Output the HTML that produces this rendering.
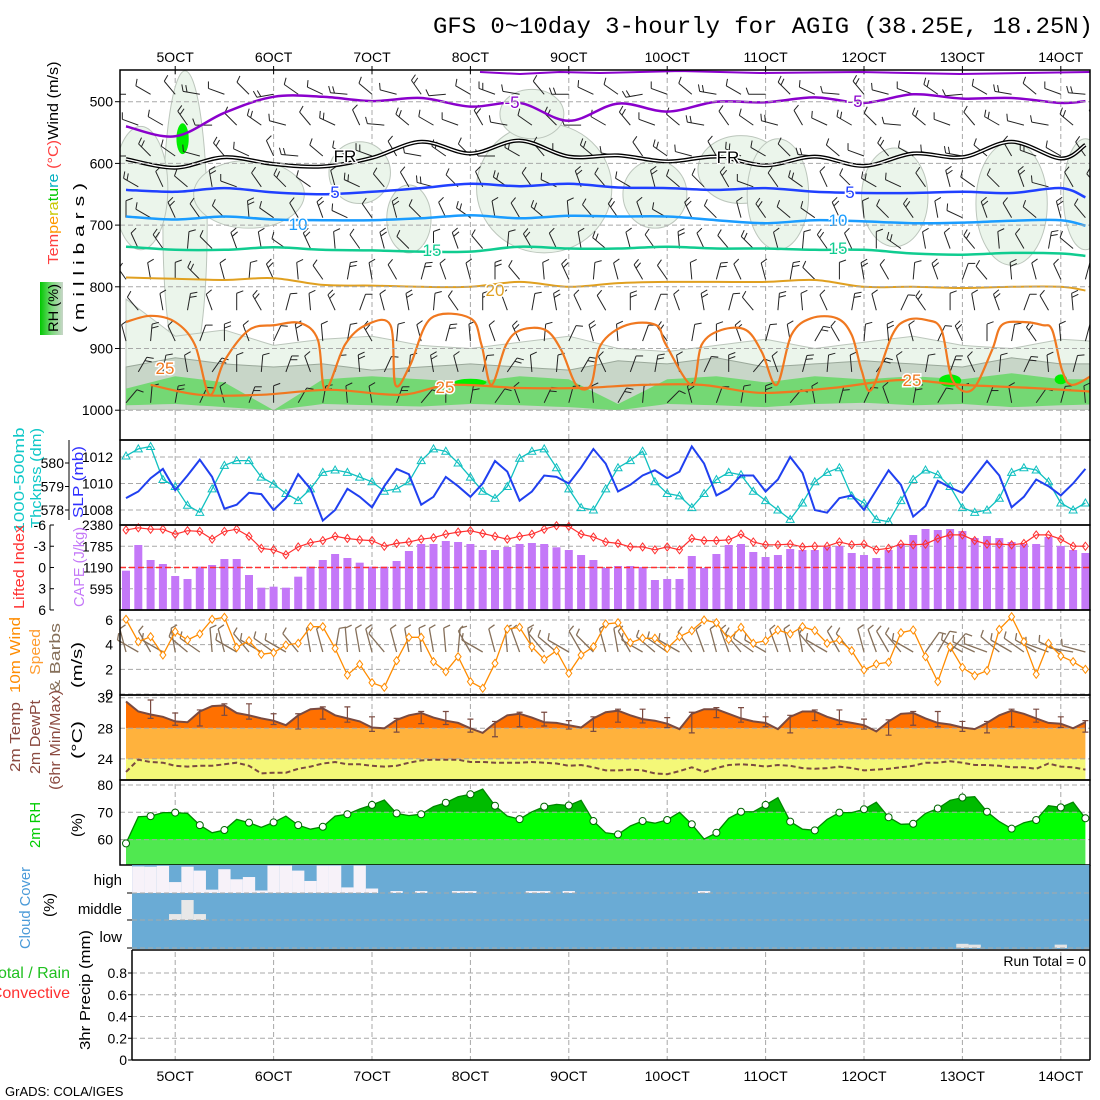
<!DOCTYPE html>
<html><head><meta charset="utf-8"><title>GFS meteogram AGIG</title>
<style>
html,body{margin:0;padding:0;background:#fff;}
svg{display:block;font-family:"Liberation Sans",sans-serif;}
</style></head>
<body>
<svg id="chart" xmlns="http://www.w3.org/2000/svg" width="1100" height="1100" viewBox="0 0 1100 1100">
<defs>
<clipPath id="clipTop"><rect x="120" y="70" width="970" height="340"/></clipPath>
<linearGradient id="rhGrad" x1="0" y1="0" x2="1" y2="0"><stop offset="0" stop-color="#00c800"/><stop offset="0.5" stop-color="#78d878"/><stop offset="1" stop-color="#c8d6c8"/></linearGradient>
</defs>
<text x="433" y="33" font-family="Liberation Mono, monospace" font-size="23" textLength="660" lengthAdjust="spacingAndGlyphs">GFS 0~10day 3-hourly for AGIG (38.25E, 18.25N)</text>
<text x="5" y="1096" font-size="13">GrADS: COLA/IGES</text>
</svg>
<script>
// ---------------- DATA ----------------
const dayLabels=["5OCT","6OCT","7OCT","8OCT","9OCT","10OCT","11OCT","12OCT","13OCT","14OCT"];
const slp=[1008.9,1009.4,1010.4,1011.1,1009.5,1010.6,1011.8,1010.5,1008.1,1008.4,1009.3,1009.2,1008.0,1008.9,1010.7,1009.6,1007.2,1008.0,1009.6,1009.0,1008.2,1009.8,1011.1,1010.7,1008.4,1009.0,1010.5,1009.8,1009.0,1010.0,1011.7,1010.9,1008.7,1009.4,1010.6,1010.5,1010.0,1011.2,1012.6,1011.5,1009.4,1009.9,1010.6,1011.0,1010.4,1010.9,1012.8,1011.5,1009.1,1009.6,1010.6,1010.6,1009.4,1010.3,1012.0,1010.8,1008.0,1007.8,1008.9,1009.1,1008.0,1009.5,1011.0,1009.9,1007.5,1008.3,1010.2,1009.7,1009.3,1010.5,1011.7,1010.6,1008.2,1009.0,1010.3,1009.8,1009.1,1010.0,1011.1];
const thick=[580.3,580.6,580.7,579.3,579.0,578.2,577.9,578.9,579.9,580.1,580.1,579.4,579.1,578.7,578.4,578.9,579.6,579.7,579.6,579.4,579.2,578.8,578.9,579.2,580.1,580.6,580.5,580.0,579.4,578.8,578.5,579.0,580.2,580.5,580.6,579.8,578.9,578.1,578.0,578.9,579.8,580.1,580.5,579.2,578.7,578.6,578.1,578.7,579.3,579.6,579.5,578.8,578.4,578.0,577.6,578.3,579.2,579.6,579.8,578.6,578.3,577.6,577.5,578.4,579.3,579.7,579.5,579.0,578.1,577.9,578.0,578.5,579.6,579.8,579.7,579.2,578.3,578.0,578.3];
const cape=[1101,1820,1400,1288,952,868,1213,1260,1428,1428,980,625,653,625,933,1213,1400,1568,1456,1325,1213,1213,1372,1652,1848,1848,1932,1904,1848,1680,1680,1764,1848,1876,1848,1755,1680,1540,1400,1176,1232,1232,1204,840,868,868,1512,1176,1568,1820,1848,1624,1484,1540,1708,1680,1680,1764,1792,1596,1540,1456,1680,1848,2100,2268,2240,2268,2212,2016,2072,2016,1904,1848,1848,2044,1792,1680,1596];
const lifted=[-5.3,-5.6,-5.4,-5.4,-4.7,-5.2,-5.1,-4.0,-5.1,-5.4,-4.4,-2.7,-2.5,-1.8,-2.9,-3.5,-3.8,-4.4,-4.1,-3.9,-3.8,-3.0,-3.4,-3.6,-4.0,-4.2,-4.7,-5.0,-5.2,-4.8,-4.4,-4.0,-4.4,-4.7,-5.4,-5.9,-5.8,-4.7,-4.3,-3.6,-3.4,-2.9,-2.9,-2.5,-2.9,-2.5,-4.1,-3.8,-3.8,-3.9,-4.7,-3.6,-3.2,-3.2,-3.3,-2.9,-3.0,-3.0,-3.6,-3.2,-3.3,-2.5,-2.7,-3.3,-3.2,-3.3,-4.1,-4.6,-4.6,-3.8,-3.3,-3.3,-3.2,-3.4,-4.6,-4.6,-4.0,-3.0,-3.0];
const wspd=[6.06,4.24,4.65,3.16,5.05,4.38,4.87,6.06,6.22,3.78,4.32,3.22,3.35,3.97,4.11,5.46,5.46,3.7,1.54,2.41,0.92,0.54,2.7,4.6,4.6,2.62,1.81,3.03,1.0,0.46,2.49,5.27,5.41,3.84,2.81,3.51,1.68,3.16,3.84,5.68,5.78,4.16,4.52,4.52,3.7,4.65,5.14,6.0,5.78,4.43,5.41,4.11,4.32,5.19,4.87,5.46,5.14,4.11,4.38,3.51,1.95,2.43,2.57,4.97,5.19,3.03,1.0,3.84,2.16,1.49,1.89,5.24,6.27,4.24,1.6,4.11,3.08,2.62,2.0];
const wdir10=[345,300,330,300,350,310,305,355,345,300,320,300,305,300,320,350,345,10,355,350,345,320,345,350,355,350,355,5,330,300,345,355,340,350,320,310,300,330,315,345,350,330,300,310,305,300,325,340,345,340,320,305,300,340,345,350,320,300,330,320,345,340,330,320,300,35,30,40,300,295,290,310,300,305,300,290,295,280,285];
const temp2m=[31.5,30.2,29.8,29.5,28.9,28.8,30.2,30.9,31.0,30.0,29.7,29.3,29.0,28.4,29.7,30.5,30.6,29.7,29.3,28.9,28.1,28.0,29.1,29.7,30.0,29.4,29.0,28.7,28.0,27.4,28.7,29.7,29.9,29.4,28.8,28.7,28.4,28.1,29.3,30.1,30.3,29.7,29.2,29.0,28.6,27.9,29.9,30.5,30.5,29.9,29.3,28.9,28.7,27.9,29.5,30.2,30.2,29.5,29.0,28.7,28.4,27.6,28.9,29.9,30.0,29.3,28.7,28.5,28.1,27.9,28.7,29.7,30.3,29.9,29.3,28.7,28.6,28.0,28.8];
const dew2m=[22.3,23.9,23.6,23.5,23.1,23.0,23.1,23.1,23.3,23.5,23.1,22.1,22.2,22.2,22.7,23.0,23.4,23.6,23.3,23.3,23.1,23.0,23.1,23.5,23.8,23.9,23.9,23.9,23.6,23.6,23.5,23.5,23.5,23.6,23.5,23.4,23.1,23.2,22.9,22.5,22.5,22.6,22.5,22.1,22.0,22.4,22.9,22.3,22.8,23.2,23.3,23.2,23.0,23.2,23.1,22.8,22.7,22.8,23.0,22.8,22.5,22.6,22.7,22.9,23.1,23.5,23.5,23.7,23.5,23.2,23.2,23.1,22.9,22.9,22.7,23.4,23.0,22.9,22.6];
const rh2m=[58.6,68.4,68.6,69.9,69.9,69.6,65.3,62.5,63.5,67.4,66.2,64.5,66.3,68.6,65.3,63.8,64.7,68.6,69.3,71.2,72.7,74.5,69.6,68.8,69.3,72.1,73.5,75.7,76.6,78.5,72.4,68.6,67.5,70.2,72.1,72.9,72.5,74.4,66.8,62.5,61.9,65.0,66.8,66.0,67.2,70.0,65.6,60.2,62.5,67.8,70.2,70.2,72.7,75.4,66.6,63.8,63.4,67.4,69.9,69.9,71.1,73.7,68.2,65.6,65.8,69.6,71.4,74.4,75.4,75.7,70.2,66.6,64.0,66.2,67.2,72.4,71.8,73.7,67.8];
const highCloud=[0.05,0.05,0.06,0.03,0.61,0.06,0.2,0.88,0.15,0.51,0.43,0.91,0.02,0.02,0.2,0.57,0.02,0.02,0.8,0.02,0.84,1,0.93,1,0.93,1,1,0.93,0.93,1,1,1,1,0.93,0.93,1,0.93,1,1,1,1,1,1,1,1,1,1,0.93,1,1,1,1,1,1,1,1,1,1,1,1,1,1,1,1,1,1,1,1,1,1,1,1,1,1,1,1,1,1,1];
const midCloud=[1,1,1,1,0.78,0.26,0.78,1,1,1,1,1,1,1,1,1,1,1,1,1,1,1,1,1,1,1,1,1,1,1,1,1,1,1,1,1,1,1,1,1,1,1,1,1,1,1,1,1,1,1,1,1,1,1,1,1,1,1,1,1,1,1,1,1,1,1,1,1,1,1,1,1,1,1,1,1,1,1,1];
const lowCloud=[1,1,1,1,1,1,1,1,1,1,1,1,1,1,1,1,1,1,1,1,1,1,1,1,1,1,1,1,1,1,1,1,1,1,1,1,1,1,1,1,1,1,1,1,1,1,1,1,1,1,1,1,1,1,1,1,1,1,1,1,1,1,1,1,1,1,1,1,0.85,0.88,1,1,1,1,1,1,0.88,1,1];
const precip=[];
const isoT=[0,4,8,12,16,20,24,28,32,36,40,44,48,52,56,60,64,68,72,76,78];
const isoM5=[540,556,518,492,492,499,494,508,502,531,503,516,500,501,493,502,488,495,494,502,499];
const isoFR=[593,607,590,601,605,591,565,584,563,589,587,597,589,603,589,604,584,590,565,592,570];
const isoP5=[643,646,640,647,650,646,640,633,637,633,639,640,643,640,646,648,648,646,648,640,655];
const isoP10=[686,691,686,691,692,692,689,684,689,685,686,686,692,697,692,694,697,696,693,692,701];
const isoP15=[735,740,740,736,740,741,743,743,735,738,738,735,738,738,740,740,746,748,745,746,750];
const isoP20=[785,787,789,786,797,798,800,800,792,800,794,792,792,792,789,800,800,802,800,800,806];
const iso25Top=[[0,857],[2,847],[4,857],[5.6,894],[6.8,975],[8,920],[10,870],[12.1,862],[14.2,859],[15.6,886],[16.2,967],[17.8,894],[19.5,862],[21.5,862],[21.9,959],[23.1,927],[24.8,851],[28,851],[28.9,894],[29.7,959],[30.9,894],[32.1,870],[34.1,870],[35.4,903],[36.6,959],[37.8,959],[38.6,894],[40.7,862],[43.1,862],[43.9,894],[46,959],[46.8,894],[48.4,870],[50.4,870],[51.7,906],[52.9,959],[54.1,878],[55.7,851],[57.8,851],[59,878],[59.8,935],[60.6,967],[62.3,878],[63.5,854],[65.1,854],[66.3,870],[67.2,951],[68.8,967],[70.4,903],[71.2,862],[72.9,857],[74.5,862],[75.3,870],[76.1,935],[76.9,959],[78.6,943]];
const iso25Low=[[2,959],[6,975],[11,975],[16.6,967],[22.3,975],[26.4,959],[32,964],[37,964],[42,959],[46.8,959],[51.7,972],[57.4,964],[63,951],[68,959],[73.7,964],[78.6,970]];
const rhBlobs=[[4.8,700,1.8,250],[1.2,640,2.2,100],[10,650,4.5,55],[19,615,2.5,50],[23,690,1.8,55],[34,640,5.5,105],[33,520,2.6,40],[43,650,2.6,55],[50,610,3.5,55],[53,650,2.5,90],[62.5,655,2.7,80],[72,665,2.9,100],[78,650,1.8,90]];
const rhT=[0,4,8,12,16,20,24,28,32,36,40,44,48,52,56,60,64,68,72,76,80];
const rhLightTop=[820,880,870,895,885,880,895,900,890,880,900,905,895,885,900,890,880,895,900,885,890];
const rhGrayTop=[930,915,925,930,925,935,930,925,930,935,920,925,915,930,925,920,925,930,915,925,925];
const rhGreenTop=[965,945,955,1000,950,945,950,955,945,950,990,950,945,955,945,950,945,950,940,950,950];
const rhGreenBot=[992,990,995,1000,990,992,994,990,992,995,1000,990,992,995,990,988,992,990,995,992,990];
const barbLevels=[475,525,575,625,675,725,775,825,875,925,975];
const barbLevelDir=[290,300,300,315,325,335,345,350,355,5,10];
const barbColShift=[-20,10,30,-10,0,25,-30,15,5,-15,20,-5,35,-25,10,0,-10,30,-20,5,15,-30,0,20,-10,10,-20,25,5,-15,30,-5,0,15,-25,10,-10,20,0,-15];
const slpTicks=[1012,1010,1008];const thickTicks=[580,579,578];
const capeTicks=[2380,1785,1190,595];const liTicks=[-6,-3,0,3,6];
const wsTicks=[6,4,2,0];const tTicks=[32,28,24];const rhTicks=[80,70,60];
const prTicks=[0,0.2,0.4,0.6,0.8];
const pTicks=[500,600,700,800,900,1000];

// ---------------- HELPERS ----------------
const NS='http://www.w3.org/2000/svg';
const svg=document.getElementById('chart');
function el(tag,attrs,parent){const e=document.createElementNS(NS,tag);for(const k in attrs)e.setAttribute(k,attrs[k]);(parent||svg).appendChild(e);return e;}
function grp(name){const g=el('g',{});return g;}
const X=i=>126+12.3*i;
const PY=p=>101.7+(p-500)*0.617;
const ySLP=v=>457+(1012-v)*13.25;
const yTh=v=>463+(580-v)*23.5;
const yCape=v=>610-v/28;
const yLI=v=>525+(v+6)*7.08;
const yWS=v=>694-v*12.33;
const yT=v=>697.7+(32-v)*7.65;
const yRH=v=>785+(80-v)*2.73;
const yPr=v=>1060-v*108.75;
const N=temp2m.length;
const GRID='#a8a8a8';
function smooth(pts){let d='M'+pts[0][0].toFixed(1)+','+pts[0][1].toFixed(1);
 for(let k=0;k<pts.length-1;k++){const p0=pts[Math.max(0,k-1)],p1=pts[k],p2=pts[k+1],p3=pts[Math.min(pts.length-1,k+2)];
 const c1=[p1[0]+(p2[0]-p0[0])/6,p1[1]+(p2[1]-p0[1])/6],c2=[p2[0]-(p3[0]-p1[0])/6,p2[1]-(p3[1]-p1[1])/6];
 d+='C'+c1[0].toFixed(1)+','+c1[1].toFixed(1)+' '+c2[0].toFixed(1)+','+c2[1].toFixed(1)+' '+p2[0].toFixed(1)+','+p2[1].toFixed(1);}return d;}
function hline(g,y,x1,x2){return el('line',{x1:x1,x2:x2,y1:y,y2:y,stroke:GRID,'stroke-dasharray':'5,3','stroke-width':1},g);}
function rotText(g,str,x,yc,size,color,len){const t=el('text',{x:x,y:yc,transform:'rotate(-90 '+x+' '+yc+')','text-anchor':'middle','font-size':size,fill:color},g);if(len){t.setAttribute('textLength',len);t.setAttribute('lengthAdjust','spacingAndGlyphs');}t.textContent=str;return t;}
function ytick(g,str,x,y,anchor){const t=el('text',{x:x,y:y+5,'text-anchor':anchor||'end','font-size':14,fill:'#000'},g);t.textContent=str;return t;}
function barb(g,x,y,dir,len,nt,color,w){const r=dir*Math.PI/180;const ux=Math.sin(r),uy=-Math.cos(r);const ex=x+ux*len,ey=y+uy*len;
 const s=el('line',{x1:x,y1:y,x2:ex,y2:ey,stroke:color,'stroke-width':w},g);
 
 
 const r2=r+70*Math.PI/180;for(let k=0;k<nt;k++){const bx=ex-ux*k*4,by=ey-uy*k*4;el('line',{x1:bx,y1:by,x2:bx+Math.sin(r2)*7,y2:by-Math.cos(r2)*7,stroke:color,'stroke-width':w},g);}}
function sampleAt(ts,vs,t){for(let k=0;k<ts.length-1;k++){if(t>=ts[k]&&t<=ts[k+1]){const f=(t-ts[k])/(ts[k+1]-ts[k]);return vs[k]+f*(vs[k+1]-vs[k]);}}return vs[vs.length-1];}

// ---------------- GRID ----------------
const gv=grp('day-gridlines');
dayLabels.forEach((lab,k)=>{const x=X(4+8*k);
 [[70,410],[410,440],[440,1060]].forEach(s=>el('line',{x1:x,x2:x,y1:s[0],y2:s[1],stroke:GRID,'stroke-dasharray':'5,3'},gv));
 const t1=el('text',{x:x,y:62,'text-anchor':'middle','font-size':14},gv);
 
 
 t1.textContent=lab;
 const t2=el('text',{x:x,y:1081,'text-anchor':'middle','font-size':14},gv);
 
 
 t2.textContent=lab;
 el('line',{x1:x,x2:x,y1:66,y2:74,stroke:'#000'},gv);
});

// ---------------- TOP PANEL ----------------
const gt=grp('upper-air-panel');
const gtc=el('g',{'clip-path':'url(#clipTop)'},gt);
function bandPath(topArr,botArr){const pts=[];for(let t=0;t<=80;t+=1){pts.push([X(t),PY(sampleAt(rhT,topArr,t))]);}
 const bp=[];for(let t=80;t>=0;t-=1){bp.push([X(t),PY(botArr?sampleAt(rhT,botArr,t):1000)]);}
 return 'M'+pts.concat(bp).map(p=>p[0].toFixed(1)+','+p[1].toFixed(1)).join('L')+'Z';}
rhBlobs.forEach(b=>{const e=el('ellipse',{cx:X(b[0]),cy:PY(b[1]),rx:b[2]*12.3,ry:b[3]*0.617,fill:'#ebf5eb',stroke:'#bcc6bc','stroke-width':1},gtc);
 
 });
const lb=el('path',{d:bandPath(rhLightTop),fill:'#ebf5eb',stroke:'#bcc6bc'},gtc);


const gb=el('path',{d:bandPath(rhGrayTop),fill:'#c8d6c8',stroke:'#9aa89a'},gtc);


const grb=el('path',{d:bandPath(rhGreenTop,rhGreenBot),fill:'#74d874',stroke:'none'},gtc);


[[4.6,560,0.5,25],[28,955,1.3,6],[67,952,0.9,10],[76,950,0.5,8]].forEach(b=>{el('ellipse',{cx:X(b[0]),cy:PY(b[1]),rx:b[2]*12.3,ry:b[3]*0.617,fill:'#00ee00'},gtc);});
pTicks.forEach(p=>{hline(gt,PY(p),120,1090);ytick(gt,String(p),113,PY(p));el('line',{x1:115,x2:120,y1:PY(p),y2:PY(p),stroke:'#000'},gt);});
const gbarb=el('g',{},gtc);
for(let c=0;c<40;c++){barbLevels.forEach((p,l)=>{const dir=barbLevelDir[l]+barbColShift[(c+l*3)%40];const x=X(c*2+(l%2));const y=PY(p)+8;barb(gbarb,x,y,dir,17,(l+c)%3===0?2:1,'#222',1);});}
function isoLine(vals,color,w,name){const pts=isoT.map((t,k)=>[X(t),PY(vals[k])]);const d=smooth(pts);const l=el('path',{d:d,fill:'none',stroke:color,'stroke-width':w,'stroke-linejoin':'round'},gtc);
 
 return d;}
isoLine(isoM5,'#8a00cc',2.5,'isotherm-minus5-upper');
const fr=isoLine(isoFR,'#000',4,'freezing-level');
el('path',{d:fr,fill:'none',stroke:'#fff','stroke-width':1.3},gtc);
isoLine(isoP5,'#2040ff',2.5,'isotherm-5');
isoLine(isoP10,'#1a9cff',2.5,'isotherm-10');
isoLine(isoP15,'#10cc90',2.5,'isotherm-15');
isoLine(isoP20,'#e0a020',2,'isotherm-20');
function pairLine(arr,name){const d=smooth(arr.map(a=>[X(a[0]),PY(a[1])]));const l=el('path',{d:d,fill:'none',stroke:'#f07820','stroke-width':2.2,'stroke-linejoin':'round'},gtc);
 
 }
pairLine(iso25Top,'isotherm-25-upper');
pairLine(iso25Low,'isotherm-25-lower');
el('polyline',{points:'480,72 520,74 560,72 600,73 680,71 760,73 860,72 960,74 1090,72',fill:'none',stroke:'#8a00cc','stroke-width':2},gtc);
[['-5',512,108,'#8a00cc'],['-5',855,107,'#8a00cc'],['FR',345,162,'#000'],['FR',728,163,'#000'],['5',335,198,'#2040ff'],['5',850,198,'#2040ff'],['10',298,230,'#1a9cff'],['10',838,226,'#1a9cff'],['15',432,256,'#10cc90'],['15',838,254,'#10cc90'],['20',495,296,'#e0a020'],['25',165,374,'#f07820'],['25',445,393,'#f07820'],['25',912,386,'#f07820']].forEach(a=>{
 const t=el('text',{x:a[1],y:a[2],'text-anchor':'middle','font-size':17,fill:a[3],stroke:'#fff','stroke-width':3,'paint-order':'stroke'},gtc);
 
 
 t.textContent=a[0];});
el('rect',{x:120,y:70,width:970,height:370,fill:'none',stroke:'#000','stroke-width':1.5},gt);
const tl=el('text',{x:58,y:163,transform:'rotate(-90 58 163)','text-anchor':'middle','font-size':15,textLength:203,lengthAdjust:'spacingAndGlyphs'},gt);


[['Tem','#ff4040'],['pe','#ff9900'],['ra','#c8c800'],['tu','#00c800'],['re','#00b0c0'],[' (°C)','#ff4040'],['Wind (m/s)','#000']].forEach(s=>{const ts=el('tspan',{fill:s[1]},tl);ts.textContent=s[0];});
rotText(gt,'( m i l l i b a r s )',84,258,15,'#000',150);
const rb=el('rect',{x:40,y:282,width:23,height:53,fill:'url(#rhGrad)'},gt);


rotText(gt,'RH (%)',58,308,14,'#000',48);

// ---------------- SLP / THICKNESS ----------------
const gs=grp('slp-thickness-panel');
slpTicks.forEach(v=>{hline(gs,ySLP(v),120,1090);ytick(gs,String(v),113,ySLP(v));});
thickTicks.forEach(v=>{ytick(gs,String(v),64,yTh(v));el('line',{x1:65,x2:69,y1:yTh(v),y2:yTh(v),stroke:'#000'},gs);});
el('line',{x1:69,x2:69,y1:440,y2:520,stroke:'#000'},gs);
const thl=el('polyline',{points:thick.map((v,i)=>X(i).toFixed(1)+','+yTh(v).toFixed(1)).join(' '),fill:'none',stroke:'#10c0c0','stroke-width':1.3},gs);


thick.forEach((v,i)=>{const x=X(i),y=yTh(v);const m=el('polygon',{points:`${x},${y-4} ${x-4},${y+3} ${x+4},${y+3}`,fill:'none',stroke:'#10c0c0','stroke-width':1},gs);
 
 });
const sl=el('polyline',{points:slp.map((v,i)=>X(i).toFixed(1)+','+ySLP(v).toFixed(1)).join(' '),fill:'none',stroke:'#2040f0','stroke-width':2},gs);


el('rect',{x:120,y:440,width:970,height:85,fill:'none',stroke:'#000','stroke-width':1.5},gs);
rotText(gs,'1000-500mb',24,480,15,'#10c8c8',105);
rotText(gs,'Thcknss (dm)',41,478,15,'#10c8c8',100);
rotText(gs,'SLP (mb)',83,482,15,'#3030ff',72);

// ---------------- CAPE / LI ----------------
const gc=grp('cape-li-panel');
capeTicks.forEach(v=>{if(v<2380)hline(gc,yCape(v),120,1090);ytick(gc,String(v),113,yCape(v));});
cape.forEach((v,i)=>{const b=el('rect',{x:X(i)-4,y:yCape(v),width:8,height:610-yCape(v),fill:'#c478f8'},gc);
 
 });
el('line',{x1:120,x2:1090,y1:yLI(0),y2:yLI(0),stroke:'#ff3030','stroke-dasharray':'6,3','stroke-width':1.5},gc);
liTicks.forEach(v=>{ytick(gc,String(v),46,yLI(v));el('line',{x1:50,x2:54,y1:yLI(v),y2:yLI(v),stroke:'#000'},gc);});
el('line',{x1:50,x2:50,y1:525,y2:610,stroke:'#000'},gc);
const lil=el('polyline',{points:lifted.map((v,i)=>X(i).toFixed(1)+','+yLI(v).toFixed(1)).join(' '),fill:'none',stroke:'#ff3030','stroke-width':1.2},gc);


lifted.forEach((v,i)=>{const x=X(i),y=yLI(v);const m=el('polygon',{points:`${x},${y-4} ${x+3},${y} ${x},${y+4} ${x-3},${y}`,fill:'none',stroke:'#ff3030'},gc);
 
 });
el('rect',{x:120,y:525,width:970,height:85,fill:'none',stroke:'#000','stroke-width':1.5},gc);
rotText(gc,'Lifted Index',24,567,15,'#ff3030',84);
rotText(gc,'CAPE (J/kg)',84,567,15,'#c478f8',80);

// ---------------- 10m WIND ----------------
const gw=grp('wind-panel');
wsTicks.forEach(v=>{hline(gw,yWS(v),120,1090);ytick(gw,String(v),113,yWS(v));});
wdir10.forEach((d,i)=>barb(gw,X(i),652,d,24,1,'#86705a',1.3));
const wl=el('polyline',{points:wspd.map((v,i)=>X(i).toFixed(1)+','+yWS(v).toFixed(1)).join(' '),fill:'none',stroke:'#ff8c00','stroke-width':1.3},gw);


wspd.forEach((v,i)=>{const x=X(i),y=yWS(v);const m=el('polygon',{points:`${x},${y-4} ${x+3},${y} ${x},${y+4} ${x-3},${y}`,fill:'#fff',stroke:'#ff8c00'},gw);
 
 });
el('rect',{x:120,y:610,width:970,height:85,fill:'none',stroke:'#000','stroke-width':1.5},gw);
rotText(gw,'10m Wind',20,655,15,'#ff8c00',76);
rotText(gw,'Speed',40,652,15,'#ff9c30',46);
rotText(gw,'& Barbs',60,658,15,'#86705a',70);
rotText(gw,'(m/s)',82,665,15,'#000',46);

// ---------------- TEMPERATURE ----------------
const gT=grp('temperature-panel');
const tArea='M'+X(0)+',780 '+temp2m.map((v,i)=>'L'+X(i).toFixed(1)+','+yT(v).toFixed(1)).join(' ')+' L'+X(N-1)+',780Z';
const cpT=el('clipPath',{id:'clipT'},svg.querySelector('defs'));el('path',{d:tArea},cpT);
const gTf=el('g',{'clip-path':'url(#clipT)'},gT);
el('rect',{x:120,y:695,width:970,height:yT(28)-695,fill:'#ff7000'},gTf);
el('rect',{x:120,y:yT(28),width:970,height:yT(24)-yT(28),fill:'#ffb23d'},gTf);
el('rect',{x:120,y:yT(24),width:970,height:780-yT(24),fill:'#f4f878'},gTf);
tTicks.forEach(v=>{hline(gT,yT(v),120,1090);ytick(gT,String(v),113,yT(v));});
const tl2=el('polyline',{points:temp2m.map((v,i)=>X(i).toFixed(1)+','+yT(v).toFixed(1)).join(' '),fill:'none',stroke:'#7a4a40','stroke-width':2},gT);


for(let i=2;i<N;i+=2){const w=[temp2m[i-2],temp2m[i-1],temp2m[i]];const hi=Math.max(...w)+0.2,lo=Math.min(...w)-0.5;const x=X(i);
 const b=el('path',{d:`M${x},${yT(hi)}V${yT(lo)}M${x-3},${yT(hi)}H${x+3}M${x-3},${yT(lo)}H${x+3}`,stroke:'#7a4a40','stroke-width':1.2,fill:'none'},gT);
 
 }
const dl=el('polyline',{points:dew2m.map((v,i)=>X(i).toFixed(1)+','+yT(v).toFixed(1)).join(' '),fill:'none',stroke:'#7a4a40','stroke-width':2,'stroke-dasharray':'5,3'},gT);


el('rect',{x:120,y:695,width:970,height:85,fill:'none',stroke:'#000','stroke-width':1.5},gT);
rotText(gT,'2m Temp',20,737,15,'#8b4a40',70);
rotText(gT,'2m DewPt',40,737,15,'#8b4a40',74);
rotText(gT,'(6hr Min/Max)',60,740,15,'#8b4a40',100);
rotText(gT,'(°C)',82,740,15,'#000',38);

// ---------------- RH ----------------
const gR=grp('rh-panel');
const rArea='M'+X(0)+',865 '+rh2m.map((v,i)=>'L'+X(i).toFixed(1)+','+yRH(v).toFixed(1)).join(' ')+' L'+X(N-1)+',865Z';
const cpR=el('clipPath',{id:'clipR'},svg.querySelector('defs'));el('path',{d:rArea},cpR);
const gRf=el('g',{'clip-path':'url(#clipR)'},gR);
el('rect',{x:120,y:780,width:970,height:yRH(70)-780,fill:'#00bb00'},gRf);
el('rect',{x:120,y:yRH(70),width:970,height:yRH(60)-yRH(70),fill:'#00ff00'},gRf);
el('rect',{x:120,y:yRH(60),width:970,height:865-yRH(60),fill:'#50e850'},gRf);
rhTicks.forEach(v=>{hline(gR,yRH(v),120,1090);ytick(gR,String(v),113,yRH(v));});
const rl=el('polyline',{points:rh2m.map((v,i)=>X(i).toFixed(1)+','+yRH(v).toFixed(1)).join(' '),fill:'none',stroke:'#008800','stroke-width':1.3},gR);


rh2m.forEach((v,i)=>{if(i%2===0||i===N-1){const c=el('circle',{cx:X(i),cy:yRH(v),r:3.5,fill:'#fff',stroke:'#006600'},gR);
 
 }});
el('rect',{x:120,y:780,width:970,height:85,fill:'none',stroke:'#000','stroke-width':1.5},gR);
rotText(gR,'2m RH',40,825,15,'#00cc00',46);
rotText(gR,'(%)',82,825,15,'#000',24);

// ---------------- CLOUD ----------------
const gC=grp('cloud-panel');
el('rect',{x:132,y:865,width:958,height:84,fill:'#6aabd5'},gC);
function cloudBand(arr,top,h,color,name){arr.forEach((c,i)=>{if(c>=1)return;let x1=Math.max(132,X(i)-6.15),x2=X(i)+6.15;const r=el('rect',{x:x1,y:top+c*h,width:x2-x1,height:(1-c)*h,fill:color},gC);
 
 });}
cloudBand(highCloud,865,28,'#f7f2f9','high-cloud-clear');
cloudBand(midCloud,893,27,'#e8e8e8','middle-cloud-clear');
cloudBand(lowCloud,920,28,'#e4e4e4','low-cloud-clear');
[893,920,948].forEach(y=>{hline(gC,y,132,1090);el('line',{x1:127,x2:132,y1:y,y2:y,stroke:'#000'},gC);});
[['high',880],['middle',909],['low',937]].forEach(a=>{const t=el('text',{x:122,y:a[1]+5,'text-anchor':'end','font-size':15},gC);
 
 
 t.textContent=a[0];});
rotText(gC,'Cloud Cover',30,908,15,'#4a9ad8',82);
rotText(gC,'(%)',54,905,15,'#000',24);

// ---------------- PRECIP ----------------
const gP=grp('precip-panel');
prTicks.forEach(v=>{if(v>0)hline(gP,yPr(v),132,1090);ytick(gP,String(v),127,yPr(v));el('line',{x1:128,x2:132,y1:yPr(v),y2:yPr(v),stroke:'#000'},gP);});
el('line',{x1:132,x2:132,y1:950,y2:1060,stroke:'#000','stroke-width':1.5},gP);
el('line',{x1:132,x2:1090,y1:1060,y2:1060,stroke:'#000','stroke-width':1.5},gP);
el('line',{x1:132,x2:1090,y1:950,y2:950,stroke:'#000','stroke-width':1.5},gP);
el('line',{x1:1090,x2:1090,y1:865,y2:1060,stroke:'#000','stroke-width':1.5},gP);
const rt=el('text',{x:1086,y:966,'text-anchor':'end','font-size':14},gP);


rt.textContent='Run Total = 0';
rotText(gP,'3hr Precip (mm)',90,990,15,'#000',120);
const tr=el('text',{x:70,y:978,'text-anchor':'end','font-size':16,fill:'#20c020'},gP);


tr.textContent='Total / Rain';
const cv=el('text',{x:70,y:998,'text-anchor':'end','font-size':16,fill:'#ff3030'},gP);


cv.textContent='Convective';
</script>
</body></html>
